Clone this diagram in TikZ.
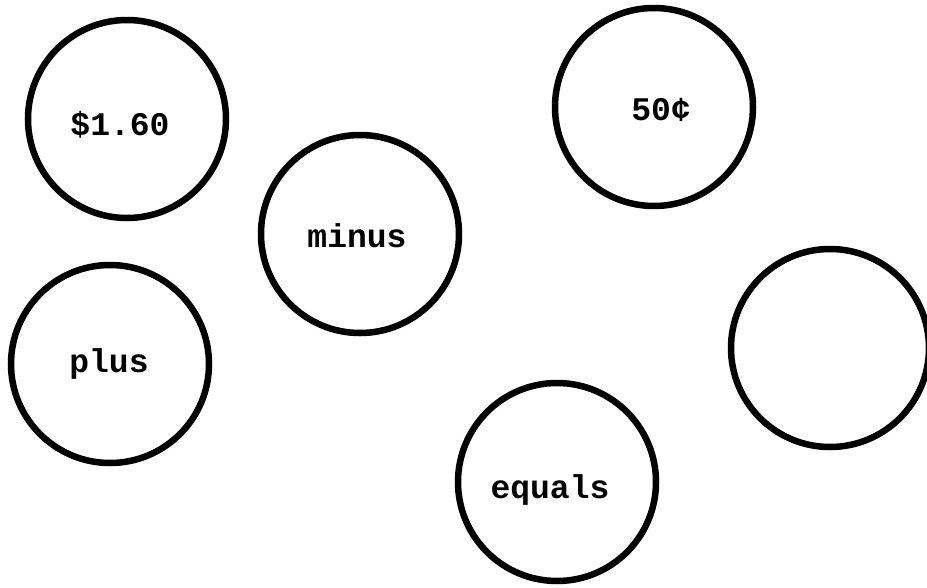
\documentclass[tikz,border=0pt]{standalone}
\usepackage{fontspec}
\newfontfamily\typefont{Liberation Mono}
\begin{document}
\begin{tikzpicture}[x=1pt,y=-1pt,
  ring/.style={circle, draw=black, line width=6.5pt, minimum size=198pt, inner sep=0pt},
  lbl/.style={font=\typefont\bfseries\fontsize{33}{33}\selectfont, anchor=base, inner sep=0pt}]
\useasboundingbox[fill=white] (0,0) rectangle (927,587);
\node[ring] (c1) at (127,119) {};
\node[ring] (c2) at (360,234) {};
\node[ring] (c3) at (654,107) {};
\node[ring] (c4) at (110,364) {};
\node[ring] (c5) at (830,348) {};
\node[ring] (c6) at (557,482) {};
\node[lbl] (t1) at (120,135) {\$1.60};
\node[lbl] (t2) at (357,247) {minus};
\node[lbl] (t3) at (661,120) {50¢};
\node[lbl] (t4) at (109,372) {plus};
\node[lbl] (t6) at (550,498) {equals};
\end{tikzpicture}
\end{document}
